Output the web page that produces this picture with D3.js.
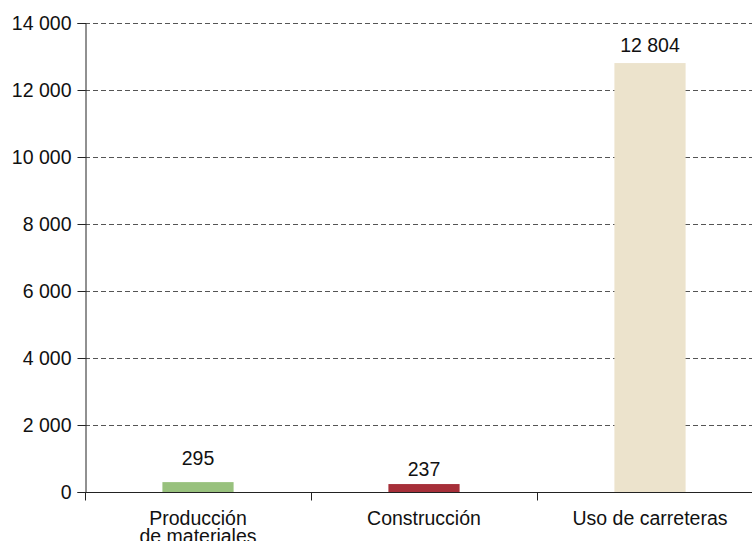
<!DOCTYPE html>
<html>
<head>
<meta charset="utf-8">
<script src="https://cdn.jsdelivr.net/npm/d3@7"></script>
<style>
  html, body { margin: 0; padding: 0; background: #fff; }
  svg { display: block; font-family: "Liberation Sans", Arial, Helvetica, sans-serif; }
</style>
</head>
<body>
<svg id="chart" width="752" height="541"></svg>
<script>
// Emissions by stage of the road life cycle
const categories = [["Producción", "de materiales"], ["Construcción"], ["Uso de carreteras"]];
const values = [295, 237, 12804];
const valueLabels = ["295", "237", "12 804"];
const yTicks = [0, 2000, 4000, 6000, 8000, 10000, 12000, 14000];
const yTickLabels = ["0", "2 000", "4 000", "6 000", "8 000", "10 000", "12 000", "14 000"];

const colors = ["#98c17d", "#a62f39", "#ece3cc"];
const labelLift = [17, 8, 11];
const FONT = 19.5;

const svg = d3.select("#chart");
const W = 752, H = 541;
const margin = { left: 85, top: 23, bottom: 49 };
const x0 = margin.left, xEnd = 763;
const y0 = H - margin.bottom;

const x = d3.scaleBand().domain(d3.range(categories.length)).range([x0, xEnd]).padding(0);
const y = d3.scaleLinear().domain([0, 14000]).range([y0, margin.top]);
const barW = x.bandwidth() * 0.315;

// Dashed gridlines
svg.append("g").selectAll("line").data(yTicks.filter(d => d > 0)).join("line")
  .attr("x1", x0).attr("x2", W)
  .attr("y1", d => Math.round(y(d)) + 0.5).attr("y2", d => Math.round(y(d)) + 0.5)
  .attr("stroke", "#555").attr("stroke-width", 1).attr("stroke-dasharray", "5,3");

// Bars
svg.append("g").selectAll("rect").data(values).join("rect")
  .attr("x", (d, i) => x(i) + x.bandwidth() / 2 - barW / 2)
  .attr("width", barW)
  .attr("y", d => y(d))
  .attr("height", d => y0 - y(d))
  .attr("fill", (d, i) => colors[i]);

// Value labels
svg.append("g").selectAll("text").data(values).join("text")
  .attr("x", (d, i) => x(i) + x.bandwidth() / 2)
  .attr("y", (d, i) => y(d) - labelLift[i])
  .attr("text-anchor", "middle")
  .attr("font-size", FONT).attr("fill", "#111")
  .text((d, i) => valueLabels[i]);

// Y axis
const yAxis = d3.axisLeft(y).tickValues(yTicks).tickFormat((d, i) => yTickLabels[i]).tickSize(8).tickPadding(6);
const gy = svg.append("g").attr("transform", `translate(${x0 + 0.5},0)`).call(yAxis);
gy.select(".domain").attr("stroke", "#222");
gy.selectAll(".tick line").attr("stroke", "#222");
gy.selectAll(".tick text").attr("font-size", FONT).attr("fill", "#111").attr("font-family", null);

// X axis
const xTickScale = d3.scaleLinear().domain([0, categories.length]).range([x0, xEnd]);
const gx = svg.append("g").attr("transform", `translate(0,${y0 + 0.5})`);
gx.append("line").attr("x1", x0).attr("x2", W).attr("stroke", "#222");
gx.selectAll("line.tk").data(d3.range(categories.length)).join("line").attr("class", "tk")
  .attr("x1", d => Math.round(xTickScale(d)) + 0.5).attr("x2", d => Math.round(xTickScale(d)) + 0.5)
  .attr("y1", 0).attr("y2", 8).attr("stroke", "#222");

const cat = gx.selectAll("text.cat").data(categories).join("text").attr("class", "cat")
  .attr("text-anchor", "middle").attr("font-size", FONT).attr("fill", "#111");
cat.selectAll("tspan").data((d, i) => d.map(t => ({ t, i }))).join("tspan")
  .attr("x", d => x(d.i) + x.bandwidth() / 2)
  .attr("y", (d, j) => 32 + j * 18)
  .text(d => d.t);
</script>
</body>
</html>
